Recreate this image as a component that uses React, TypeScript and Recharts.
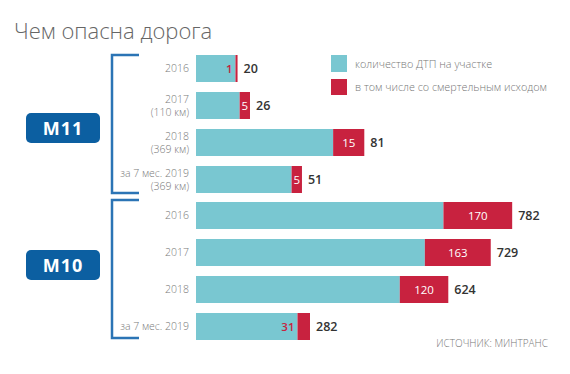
import { BarChart, Bar, XAxis, YAxis, LabelList } from 'recharts';

const m11Labels = [['2016'], ['2017', '(110 км)'], ['2018', '(369 км)'], ['за 7 мес. 2019', '(369 км)']];
const m11Total = [20, 26, 81, 51];
const m11Fatal = [1, 5, 15, 5];

const m10Labels = [['2016'], ['2017'], ['2018'], ['за 7 мес. 2019']];
const m10Total = [782, 729, 624, 282];
const m10Fatal = [170, 163, 120, 31];

const CYAN = '#79c7d1';
const RED = '#c8223f';
const BLUE = '#0c5fa1';
const LINE = '#2b74b5';
const FONT = "'Open Sans', 'Noto Sans', sans-serif";

const buildRows = (labels: string[][], totals: number[], fatal: number[]) =>
  labels.map((l, i) => ({
    label: l.join('|'),
    rest: totals[i] - fatal[i],
    fatal: fatal[i],
    total: totals[i],
  }));

const m11Data = buildRows(m11Labels, m11Total, m11Fatal);
const m10Data = buildRows(m10Labels, m10Total, m10Fatal);

function CatTick(props: any) {
  const { y, payload } = props;
  const lines: string[] = String(payload.value).split('|');
  const lh = 13;
  const start = y - ((lines.length - 1) * lh) / 2;
  return (
    <text x={189} y={start} textAnchor="end" fill="#7a7a7a" fontSize={10.5} fontWeight={300} fontFamily={FONT}>
      {lines.map((t, i) => (
        <tspan key={i} x={189} y={start + i * lh} dy="0.35em">
          {t}
        </tspan>
      ))}
    </text>
  );
}

function FatalLabel(props: any) {
  const { x, y, width, height, value } = props;
  const txt = String(value);
  const need = txt.length * 7 + 2;
  const cy = y + height / 2;
  if (width >= need) {
    return (
      <text x={x + width / 2} y={cy} dy="0.36em" textAnchor="middle" fill="#fff" fontSize={11.5} fontFamily={FONT}>
        {txt}
      </text>
    );
  }
  return (
    <text x={x - 3} y={cy} dy="0.36em" textAnchor="end" fill={RED} fontSize={11.5} fontWeight={600} fontFamily={FONT}>
      {txt}
    </text>
  );
}

function TotalLabel(props: any) {
  const { x, y, width, height, value } = props;
  return (
    <text x={x + width + 6} y={y + height / 2} dy="0.36em" fill="#333" fontSize={12.5} fontWeight={600} fontFamily={FONT}>
      {value}
    </text>
  );
}

function GroupChart({ data, max, top }: { data: any[]; max: number; top: number }) {
  return (
    <div style={{ position: 'absolute', left: 0, top }}>
      <BarChart width={570} height={148} data={data} layout="vertical" margin={{ top: 0, right: 0, left: 0, bottom: 0 }}>
        <XAxis type="number" domain={[0, max]} hide />
        <YAxis
          type="category"
          dataKey="label"
          width={196}
          axisLine={false}
          tickLine={false}
          interval={0}
          tick={(p: any) => <CatTick {...p} />}
        />
        <Bar dataKey="rest" stackId="a" fill={CYAN} barSize={27} isAnimationActive={false} />
        <Bar dataKey="fatal" stackId="a" fill={RED} barSize={27} isAnimationActive={false}>
          <LabelList dataKey="fatal" content={(p: any) => <FatalLabel {...p} />} />
          <LabelList dataKey="total" content={(p: any) => <TotalLabel {...p} />} />
        </Bar>
      </BarChart>
    </div>
  );
}

function Badge({ text, top }: { text: string; top: number }) {
  return (
    <div
      style={{
        position: 'absolute',
        left: 26,
        top,
        width: 74,
        height: 30,
        borderRadius: 5,
        background: BLUE,
        color: '#fff',
        fontFamily: FONT,
        fontWeight: 700,
        fontSize: 18,
        letterSpacing: 1,
        lineHeight: '30px',
        textAlign: 'center',
      }}
    >
      {text}
    </div>
  );
}

export default function App() {
  return (
    <div style={{ position: 'absolute', left: 0, top: 0, width: 570, height: 374, background: '#fff', fontFamily: FONT }}>
      <div style={{ position: 'absolute', left: 14, top: 15, fontSize: 22, fontWeight: 300, color: '#666' }}>
        Чем опасна дорога
      </div>

      <svg width={570} height={374} style={{ position: 'absolute', left: 0, top: 0 }}>
        <path d="M139,55 H112 V193 H139" fill="none" stroke={LINE} strokeWidth={2.5} />
        <path d="M139,200 H112 V338 H139" fill="none" stroke={LINE} strokeWidth={2.5} />
      </svg>
      <Badge text="M11" top={113} />
      <Badge text="M10" top={250} />

      <GroupChart data={m11Data} max={180} top={50} />
      <GroupChart data={m10Data} max={925} top={197} />

      <div style={{ position: 'absolute', left: 331, top: 55, width: 16, height: 17, background: CYAN }} />
      <div style={{ position: 'absolute', left: 331, top: 79, width: 16, height: 16, background: RED }} />
      <div style={{ position: 'absolute', left: 355, top: 56, fontSize: 10.8, fontWeight: 300, color: '#777', whiteSpace: 'nowrap' }}>
        количество ДТП на участке
      </div>
      <div style={{ position: 'absolute', left: 355, top: 79, fontSize: 10.8, fontWeight: 300, color: '#777', whiteSpace: 'nowrap' }}>
        в том числе со смертельным исходом
      </div>

      <div style={{ position: 'absolute', right: 22, top: 336, fontSize: 10, fontWeight: 300, color: '#777', whiteSpace: 'nowrap' }}>
        ИСТОЧНИК: МИНТРАНС
      </div>
    </div>
  );
}
